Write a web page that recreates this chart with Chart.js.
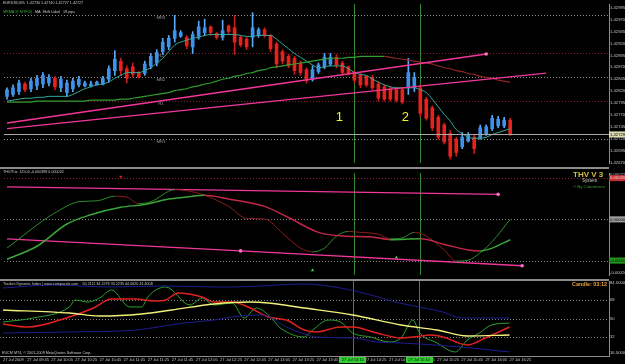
<!DOCTYPE html>
<html>
<head>
<meta charset="utf-8">
<script src="https://cdn.jsdelivr.net/npm/chart.js@4.4.0/dist/chart.umd.min.js"></script>
<style>
  body { margin: 0; background: #000; }
  #wrap { position: relative; width: 625px; height: 364px; background: #000; overflow: hidden;
          font-family: "Liberation Sans", Arial, sans-serif; }
  canvas { position: absolute; left: 0; }
  .sep { position: absolute; left: 0; width: 609px; height: 2px; background: #8c8c8c; }
  .t { position: absolute; white-space: nowrap; font-size: 3.7px; line-height: 1; color: #c8c8c8; }
</style>
</head>
<body>
<div id="wrap">
  <canvas id="cPrice" width="625" height="167" style="top:0"></canvas>
  <canvas id="cThv" width="625" height="110" style="top:169px"></canvas>
  <canvas id="cTdi" width="625" height="83" style="top:281px"></canvas>
  <div class="sep" style="top:167px"></div>
  <div class="sep" style="top:279px"></div>

  <div class="t" style="left:3px;top:2px">EURUSD,M5&nbsp; 1.42730 1.42740 1.42727 1.42727</div>
  <div class="t" style="left:3px;top:11px"><span style="color:#3cb043">MRMA @ MTF(0)</span>&nbsp;&nbsp; MA: Shift Label&nbsp;&nbsp; 18 pips</div>
  <div class="t" style="left:3px;top:171px">THV/Trix: 1/0.00 -0.000399 0.000032</div>
  <div class="t" style="left:573px;top:171px;font-size:8px;font-weight:bold;color:#d2c040">THV V 3</div>
  <div class="t" style="left:582px;top:179px;font-size:4.6px">System</div>
  <div class="t" style="left:573px;top:185px;font-size:4.3px;color:#2e9e2e">© By Cobraforex</div>
  <div class="t" style="left:3px;top:283px">Traders Dynamic Index | www.compassfx.com&nbsp;&nbsp;&nbsp; 50.2111 34.2279 33.2235 44.0620 41.4008</div>
  <div class="t" style="left:572px;top:282px;font-size:5.4px;font-weight:bold;color:#e8a23a">Candle: 03:12</div>
  <div class="t" style="left:2px;top:352px">EUCM MT4, © 2001-2009 MetaQuotes Software Corp.</div>
</div>

<script>
// M5 bars, 27 Jul 2009, first bar 09:25 (chart keeps some empty bars on the right)
var times = [];
for (var k = 0; k < 101; k++) {
  var m = 9 * 60 + 25 + 5 * k;
  times.push(String(Math.floor(m / 60)).padStart(2, '0') + ':' + String(m % 60).padStart(2, '0'));
}
var timeTickIndex = [0, 4, 8, 12, 16, 20, 24, 28, 32, 36, 40, 44, 48, 52, 56, 60, 64, 68, 72, 76, 80, 84];
var timeTickLabels = ['27 Jul 2009', '27 Jul 09:45', '27 Jul 10:05', '27 Jul 10:25', '27 Jul 10:45', '27 Jul 11:05',
  '27 Jul 11:25', '27 Jul 11:45', '27 Jul 12:05', '27 Jul 12:25', '27 Jul 12:45', '27 Jul 13:05', '27 Jul 13:25',
  '27 Jul 13:45', '27 Jul 14:05', '27 Jul 14:25', '27 Jul 14:45', '27 Jul 15:05', '27 Jul 15:25', '27 Jul 15:45',
  '27 Jul 16:05', '27 Jul 16:25'];
var vLines = [58, 69];
var vLineLabels = ['27 Jul 14:15', '27 Jul 15:10'];

// EURUSD M5 candles
var open = [1.42809,1.42813,1.42819,1.42835,1.42825,1.42831,1.42835,1.42837,1.42847,1.42827,
  1.42817,1.42825,1.42833,1.42831,1.42831,1.42833,1.42835,1.42845,1.42863,1.42883,
  1.42867,1.42871,1.42859,1.42857,1.42873,1.42879,1.42903,1.42913,1.42931,1.42935,
  1.42933,1.42913,1.42935,1.42943,1.42955,1.42941,1.42933,1.42957,1.42953,1.42933,
  1.42929,1.42933,1.42937,1.42949,1.42937,1.42919,1.42903,1.42893,1.42889,1.42879,
  1.42865,1.42845,1.42861,1.42871,1.42877,1.42891,1.42879,1.42871,1.42859,1.42853,
  1.42851,1.42849,1.42835,1.42829,1.42825,1.42823,1.42823,1.42827,1.42827,1.42827,
  1.42803,1.42785,1.42765,1.42749,1.42731,1.42719,1.42703,1.42715,1.42723,1.42721,
  1.42729,1.42741,1.42747,1.42747,1.42759];
var high = [1.42827,1.42833,1.42843,1.42839,1.42847,1.42853,1.42859,1.42855,1.42851,1.42851,
  1.42843,1.42847,1.42851,1.42841,1.42841,1.42841,1.42851,1.42873,1.42905,1.42889,
  1.42873,1.42879,1.42861,1.42883,1.42899,1.42907,1.42931,1.42937,1.42979,1.42947,
  1.42937,1.42945,1.42967,1.42971,1.42957,1.42943,1.42969,1.42959,1.42979,1.42937,
  1.42933,1.42985,1.42953,1.42953,1.42939,1.42923,1.42907,1.42897,1.42893,1.42883,
  1.42869,1.42873,1.42879,1.42899,1.42899,1.42897,1.42883,1.42873,1.42863,1.42857,
  1.42853,1.42853,1.42839,1.42833,1.42829,1.42827,1.42827,1.42889,1.42859,1.42833,
  1.42807,1.42789,1.42769,1.42753,1.42737,1.42723,1.42733,1.42733,1.42727,1.42749,
  1.42749,1.42769,1.42767,1.42765,1.42763];
var low = [1.42803,1.42809,1.42813,1.42819,1.42819,1.42823,1.42827,1.42831,1.42823,1.42819,
  1.42809,1.42819,1.42829,1.42829,1.42829,1.42833,1.42833,1.42839,1.42853,1.42853,
  1.42837,1.42849,1.42847,1.42853,1.42867,1.42873,1.42897,1.42907,1.42923,1.42933,
  1.42909,1.42899,1.42929,1.42937,1.42937,1.42929,1.42927,1.42939,1.42897,1.42913,
  1.42907,1.42913,1.42933,1.42933,1.42903,1.42869,1.42877,1.42869,1.42855,1.42853,
  1.42837,1.42841,1.42857,1.42867,1.42873,1.42869,1.42853,1.42853,1.42837,1.42827,
  1.42829,1.42823,1.42799,1.42799,1.42799,1.42797,1.42793,1.42813,1.42819,1.42767,
  1.42759,1.42737,1.42719,1.42709,1.42677,1.42683,1.42699,1.42713,1.42689,1.42719,
  1.42727,1.42737,1.42743,1.42743,1.42727];
var close = [1.42823,1.42827,1.42837,1.42823,1.42841,1.42847,1.42853,1.42849,1.42829,1.42845,
  1.42837,1.42841,1.42845,1.42837,1.42835,1.42839,1.42847,1.42867,1.42887,1.42863,
  1.42847,1.42855,1.42849,1.42877,1.42893,1.42901,1.42923,1.42931,1.42947,1.42943,
  1.42915,1.42939,1.42955,1.42953,1.42943,1.42933,1.42947,1.42945,1.42923,1.42917,
  1.42913,1.42953,1.42949,1.42937,1.42909,1.42877,1.42883,1.42873,1.42863,1.42859,
  1.42843,1.42865,1.42875,1.42891,1.42891,1.42875,1.42859,1.42857,1.42843,1.42833,
  1.42833,1.42827,1.42805,1.42803,1.42803,1.42801,1.42797,1.42859,1.42849,1.42773,
  1.42763,1.42743,1.42723,1.42713,1.42683,1.42691,1.42723,1.42727,1.42699,1.42743,
  1.42745,1.42763,1.42761,1.42759,1.42729];
var lastPrice = 1.42729;

// moving averages on the price panel
var fastMA = [1.42799,1.42801,1.42803,1.42805,1.42805,1.42807,1.42807,1.42809,1.42809,1.42809,
  1.42809,1.42813,1.42819,1.42825,1.42829,1.42833,1.42835,1.42839,1.42847,1.42853,
  1.42859,1.42859,1.42859,1.42863,1.42869,1.42879,1.42889,1.42903,1.42917,1.42923,
  1.42927,1.42931,1.42933,1.42937,1.42939,1.42939,1.42939,1.42939,1.42939,1.42937,
  1.42935,1.42935,1.42937,1.42937,1.42937,1.42929,1.42919,1.42909,1.42899,1.42891,
  1.42883,1.42875,1.42869,1.42871,1.42873,1.42873,1.42873,1.42867,1.42859,1.42855,
  1.42853,1.42845,1.42839,1.42833,1.42829,1.42827,1.42827,1.42827,1.42827,1.42823,
  1.42817,1.42803,1.42787,1.42771,1.42757,1.42739,1.42731,1.42723,1.42721,1.42721,
  1.42723,1.42729,1.42733,1.42737,1.42741];
var slowMA = [1.42797,1.42797,1.42797,1.42797,1.42797,1.42799,1.42799,1.42799,1.42799,1.42799,
  1.42799,1.42799,1.42799,1.42799,1.42801,1.42801,1.42801,1.42801,1.42801,1.42803,
  1.42803,1.42805,1.42807,1.42809,1.42811,1.42813,1.42815,1.42817,1.42821,1.42823,
  1.42825,1.42829,1.42831,1.42835,1.42837,1.42841,1.42845,1.42847,1.42851,1.42853,
  1.42857,1.42859,1.42863,1.42865,1.42869,1.42871,1.42873,1.42875,1.42877,1.42879,
  1.42881,1.42883,1.42885,1.42887,1.42889,1.42889,1.42889,1.42891,1.42891,1.42893,
  1.42893,1.42893,1.42893,1.42893,1.42891,1.42889,1.42887,1.42885,1.42883,1.42881,
  1.42879,1.42877,1.42873,1.42869,1.42867,1.42863,1.42861,1.42857,1.42855,1.42851,
  1.42849,1.42847,1.42843,1.42841,1.42839];

// trend lines [bar, price]
var upperTrend = [[0, 1.42753], [80, 1.42898]];
var lowerTrend = [[0, 1.42741], [90, 1.42858]];

// pivot levels
var pivotNames = ['MR3', 'R2', 'MR2', 'R1', 'MR1'];
var pivotValues = [1.42980, 1.42900, 1.42850, 1.42800, 1.42720];
var pivotColors = ['#8a8a8a', '#8c1c30', '#8a8a8a', '#8c1c30', '#8a8a8a'];

var priceTicks = [1.42995, 1.42970, 1.42945, 1.42920, 1.42895, 1.42870, 1.42845, 1.42820,
  1.42795, 1.42770, 1.42745, 1.42720, 1.42695, 1.42670];

// THV / Trix panel [bar, value]
var thvFast = [[0,-0.0001395],[2,-0.0000945],[5,-0.000027],[8,0.0000315],[12,0.0000855],[15,0.00009],
  [18,0.0001125],[20,0.000108],[22,0.0000765],[24,0.0000855],[28,0.000144],[30,0.0001395],[33,0.000117],
  [37,0.000063],[40,0.0000045],[43,0.000002],[46,-0.0000675],[49,-0.0001395],[51,-0.0001575],
  [53,-0.0001395],[55,-0.000081],[57,-0.0000585],[59,-0.000063],[62,-0.000072],[64,-0.0000945],
  [66,-0.00009],[68,-0.000063],[70,-0.000081],[73,-0.0001485],[75,-0.0002025],[77,-0.000198],
  [79,-0.000162],[81,-0.000108],[84,0.0]];
var thvSlow = [[0,-0.0001935],[5,-0.0001305],[10,-0.0000225],[14,0.0000225],[19,0.0000585],[23,0.000072],
  [27,0.000099],[30,0.000108],[33,0.000117],[37,0.000099],[43,0.000063],[47,0.000009],[52,-0.000063],
  [56,-0.000081],[61,-0.0000855],[64,-0.000099],[69,-0.0000945],[73,-0.0001215],[77,-0.0001485],
  [79,-0.000153],[81,-0.0001395],[84,-0.000099]];
var thvUpperLine = [[0, 0.0001575], [82, 0.0001215]];
var thvLowerLine = [[0, -0.0000945], [39, -0.000153], [86, -0.000225]];
var thvSellArrows = [[19, 0.000207]];
var thvBuyArrows = [[51, -0.0002475], [65, -0.0001845]];
var thvLevels = [0.0002, 0, -0.0002];
var thvTicks = [0.000216, -0.000261, 0.0002, 0, -0.0002];

// Traders Dynamic Index panel [bar, value]
var tdiUpper = [[0,79.6],[8,82.5],[18,80.6],[27,81.6],[35,80.6],[38,80.6],[50,83.5],[56,79.6],[61,72.8],
  [65,66.0],[69,61.2],[73,56.3],[76,50.5],[84,50.5]];
var tdiLower = [[0,35.9],[11,36.9],[22,38.8],[30,45.6],[35,48.5],[38,51.5],[43,53.4],[47,41.7],[50,35.0],
  [52,32.0],[58,31.1],[62,27.2],[66,26.2],[74,23.3],[84,17.5]];
var tdiBase = [[0,58.3],[11,55.3],[16,52.4],[23,54.4],[28,58.3],[35,64.1],[41,66.0],[44,65.0],[50,60.2],
  [58,53.4],[66,43.7],[72,38.8],[77,33.0],[84,34.0]];
var tdiSignal = [[0,44.7],[4,41.7],[11,51.5],[15,60.2],[18,68.9],[22,68.9],[25,67.0],[27,68.0],[29,74.8],
  [33,70.9],[35,66.0],[38,66.0],[41,60.2],[44,51.5],[47,48.5],[50,38.8],[52,36.9],[56,41.7],[58,41.7],
  [62,35.9],[66,31.1],[68,32.0],[71,34.0],[73,32.0],[77,24.3],[80,31.1],[84,41.7]];
var tdiRsi = [[0,46.6],[5,50.5],[11,61.2],[12,68.0],[14,66.0],[16,69.9],[18,77.7],[21,61.2],[23,61.2],
  [24,70.9],[27,80.6],[31,63.1],[33,69.9],[35,63.1],[38,65.0],[40,50.5],[42,60.2],[44,53.4],[46,40.8],
  [50,32.0],[51,36.9],[54,48.5],[56,46.6],[58,35.9],[61,32.0],[64,27.2],[66,31.1],[68,48.5],[69,36.9],
  [72,26.2],[75,17.5],[77,29.1],[79,35.9],[81,43.7],[84,45.6]];
var tdiLevels = [68, 50, 32];
var tdiTicks = [84.5, 16.5, 68, 50, 32];

// chart number marks
var marks = [{ text: '1', bar: 55.5, price: 1.42765 }, { text: '2', bar: 66.5, price: 1.42765 }];

Chart.defaults.font.family = '"Liberation Sans", Arial, sans-serif';
Chart.defaults.animation = false;
Chart.defaults.plugins.legend.display = false;
Chart.defaults.plugins.tooltip.enabled = false;

function pts(list) {
  return list.map(function (p) { return { x: times[p[0]], y: p[1] }; });
}
function slope(upColor, downColor) {
  return function (c) { return c.p1.parsed.y >= c.p0.parsed.y ? upColor : downColor; };
}
function isUp(i) { return close[i] >= open[i]; }

function rightAxis(min, max, values, fmt, boxOf) {
  return {
    position: 'right', min: min, max: max,
    grid: { display: false, drawTicks: false },
    border: { display: true, color: '#8c8c8c' },
    ticks: {
      autoSkip: false, padding: 1,
      font: { size: 4.2 },
      color: function (c) { var b = boxOf(c.tick.value); return b ? b[1] : '#c4c4c4'; },
      showLabelBackdrop: true,
      backdropPadding: { left: 1, right: 4, top: 0.5, bottom: 0.5 },
      backdropColor: function (c) { var b = boxOf(c.tick.value); return b ? b[0] : 'rgba(0,0,0,0)'; },
      callback: function (v) { return fmt(v); }
    },
    afterBuildTicks: function (ax) { ax.ticks = values.map(function (v) { return { value: v }; }); },
    afterFit: function (ax) { ax.width = 16; ax.paddingTop = 0; ax.paddingBottom = 0; }
  };
}
function hiddenX() {
  return { type: 'category', offset: true, display: false, grid: { display: false } };
}

// dotted level lines and the green vertical lines
var guides = {
  id: 'guides',
  beforeDatasetsDraw: function (chart, args, opts) {
    var ctx = chart.ctx, a = chart.chartArea, x = chart.scales.x, y = chart.scales.y;
    ctx.save();
    ctx.lineWidth = 1;
    (opts.levels || []).forEach(function (l) {
      var py = Math.round(y.getPixelForValue(l.value)) + 0.5;
      ctx.strokeStyle = l.color;
      ctx.setLineDash(l.dash || []);
      ctx.beginPath(); ctx.moveTo(a.left, py); ctx.lineTo(a.right, py); ctx.stroke();
      if (l.label) {
        ctx.setLineDash([]);
        ctx.fillStyle = '#9a9a9a';
        ctx.font = '4.3px "Liberation Sans", Arial';
        ctx.textAlign = 'center'; ctx.textBaseline = 'top';
        ctx.fillText(l.label, x.getPixelForValue(25.7), py + 0.5);
      }
    });
    ctx.setLineDash([]);
    ctx.strokeStyle = '#348a34';
    vLines.forEach(function (i) {
      var px = Math.round(x.getPixelForValue(i)) + 0.5;
      ctx.beginPath(); ctx.moveTo(px, a.top); ctx.lineTo(px, a.bottom); ctx.stroke();
    });
    ctx.restore();
  },
  afterDatasetsDraw: function (chart, args, opts) {
    var ctx = chart.ctx, x = chart.scales.x, y = chart.scales.y;
    ctx.save();
    (opts.marks || []).forEach(function (mk) {
      ctx.fillStyle = '#f2f22a';
      ctx.font = '13px "Liberation Sans", Arial';
      ctx.textAlign = 'center'; ctx.textBaseline = 'middle';
      ctx.fillText(mk.text, x.getPixelForValue(mk.bar), y.getPixelForValue(mk.price));
    });
    if (opts.current !== undefined) {
      var py = Math.round(y.getPixelForValue(opts.current)) + 0.5;
      ctx.strokeStyle = '#a8a8a8'; ctx.lineWidth = 1;
      ctx.beginPath(); ctx.moveTo(chart.chartArea.left, py); ctx.lineTo(chart.chartArea.right, py); ctx.stroke();
    }
    ctx.restore();
  },
  afterDraw: function (chart, args, opts) {
    if (!opts.timeBoxes) return;
    var ctx = chart.ctx, x = chart.scales.x;
    ctx.save();
    ctx.font = '4px "Liberation Sans", Arial';
    ctx.textAlign = 'center'; ctx.textBaseline = 'middle';
    vLines.forEach(function (i, n) {
      var px = x.getPixelForValue(i);
      var w = ctx.measureText(vLineLabels[n]).width + 5;
      ctx.fillStyle = '#2fd02f';
      ctx.fillRect(Math.round(px - w / 2), x.top + 1, Math.round(w), 6);
      ctx.fillStyle = '#000';
      ctx.fillText(vLineLabels[n], px, x.top + 4);
    });
    ctx.restore();
  }
};

function lineSet(data, color, width, extra) {
  var d = { type: 'line', data: data, borderColor: color, borderWidth: width, pointRadius: 0,
            cubicInterpolationMode: 'monotone' };
  for (var key in extra) d[key] = extra[key];
  return d;
}
function trendSet(list, color, dots) {
  return lineSet(pts(list), color, 1.3, {
    cubicInterpolationMode: 'default', tension: 0,
    pointRadius: function (c) { return dots && c.dataIndex > 0 ? 1.8 : 0; },
    pointBackgroundColor: '#ff70c8', pointBorderWidth: 0
  });
}

// price panel
new Chart(document.getElementById('cPrice'), {
  type: 'bar',
  data: {
    labels: times,
    datasets: [
      lineSet(slowMA, '#2f9e2f', 1.2, { order: 1, segment: { borderColor: slope('#2f9e2f', '#8e2626') } }),
      lineSet(fastMA, '#35a89a', 1, { order: 1 }),
      trendSet(upperTrend, '#f2379a', true),
      trendSet(lowerTrend, '#f2379a', false),
      { data: open.map(function (o, i) { return [o, close[i]]; }), barThickness: 3, grouped: false, order: 2,
        backgroundColor: function (c) { return isUp(c.dataIndex) ? '#3b93ec' : '#e6221c'; } },
      { data: low.map(function (l, i) { return [l, high[i]]; }), barThickness: 1, grouped: false, order: 3,
        backgroundColor: function (c) { return isUp(c.dataIndex) ? '#5aaaf5' : '#c81c18'; } }
    ]
  },
  options: {
    responsive: false, devicePixelRatio: 1,
    layout: { padding: 0 },
    scales: {
      x: hiddenX(),
      y: rightAxis(1.42669, 1.43003, priceTicks.concat([lastPrice]), function (v) { return v.toFixed(5); },
        function (v) { return v === lastPrice ? ['#dcdcb0', '#000'] : null; })
    },
    plugins: {
      guides: {
        levels: pivotValues.map(function (v, i) {
          return { value: v, color: pivotColors[i], dash: [1, 2], label: pivotNames[i] };
        }),
        marks: marks,
        current: lastPrice
      }
    }
  },
  plugins: [guides]
});

// THV panel
new Chart(document.getElementById('cThv'), {
  type: 'line',
  data: {
    labels: times,
    datasets: [
      lineSet(pts(thvSlow), '#3aa63a', 1.5, { segment: { borderColor: slope('#3aa63a', '#c2284a') } }),
      lineSet(pts(thvFast), '#2e8b2e', 1, { segment: { borderColor: slope('#2e8b2e', '#8e1c1c') } }),
      trendSet(thvUpperLine, '#f2379a', true),
      trendSet(thvLowerLine, '#f2379a', true),
      { data: pts(thvSellArrows), showLine: false, pointStyle: 'triangle', rotation: 180, pointRadius: 2,
        pointBackgroundColor: '#e02020', pointBorderWidth: 0 },
      { data: pts(thvBuyArrows), showLine: false, pointStyle: 'triangle', pointRadius: 2,
        pointBackgroundColor: '#3ad23a', pointBorderWidth: 0 }
    ]
  },
  options: {
    responsive: false, devicePixelRatio: 1,
    layout: { padding: 0 },
    scales: {
      x: hiddenX(),
      y: rightAxis(-0.00027, 0.000225, thvTicks, function (v) { return v.toFixed(5); }, function (v) {
        if (v === thvLevels[0]) return ['#c43030', '#f0d0d0'];
        if (v === thvLevels[1]) return ['#a0a0a0', '#000'];
        if (v === thvLevels[2]) return ['#229a22', '#000'];
        return null;
      })
    },
    plugins: {
      guides: {
        levels: [
          { value: thvLevels[0], color: '#8c2030', dash: [1, 2] },
          { value: thvLevels[1], color: '#7a7a7a', dash: [1, 2] },
          { value: thvLevels[2], color: '#7a7a7a', dash: [1, 2] }
        ]
      }
    }
  },
  plugins: [guides]
});

// Traders Dynamic Index panel
new Chart(document.getElementById('cTdi'), {
  type: 'line',
  data: {
    labels: times,
    datasets: [
      lineSet(pts(tdiUpper), '#1e1e90', 1),
      lineSet(pts(tdiLower), '#1e1e90', 1),
      lineSet(pts(tdiBase), '#f0f07a', 1.4),
      lineSet(pts(tdiSignal), '#e22020', 1.5),
      lineSet(pts(tdiRsi), '#2ea02e', 1)
    ]
  },
  options: {
    responsive: false, devicePixelRatio: 1,
    layout: { padding: 0 },
    scales: {
      x: {
        type: 'category', offset: true,
        grid: { display: false, drawTicks: false },
        border: { display: true, color: '#8c8c8c' },
        ticks: {
          autoSkip: false, maxRotation: 0, align: 'start', padding: 1,
          font: { size: 4 }, color: '#c4c4c4',
          callback: function (v, k) { return timeTickLabels[k]; }
        },
        afterBuildTicks: function (ax) { ax.ticks = timeTickIndex.map(function (v) { return { value: v }; }); },
        afterFit: function (ax) { ax.height = 8; ax.paddingLeft = 0; ax.paddingRight = 0; }
      },
      y: rightAxis(13.59, 86.41, tdiTicks, function (v) {
        return tdiLevels.indexOf(v) >= 0 ? String(v) : v.toFixed(4);
      }, function () { return null; })
    },
    plugins: {
      guides: {
        levels: tdiLevels.map(function (v) { return { value: v, color: '#7a7a7a', dash: [1, 2] }; }),
        timeBoxes: true
      }
    }
  },
  plugins: [guides]
});
</script>
</body>
</html>
